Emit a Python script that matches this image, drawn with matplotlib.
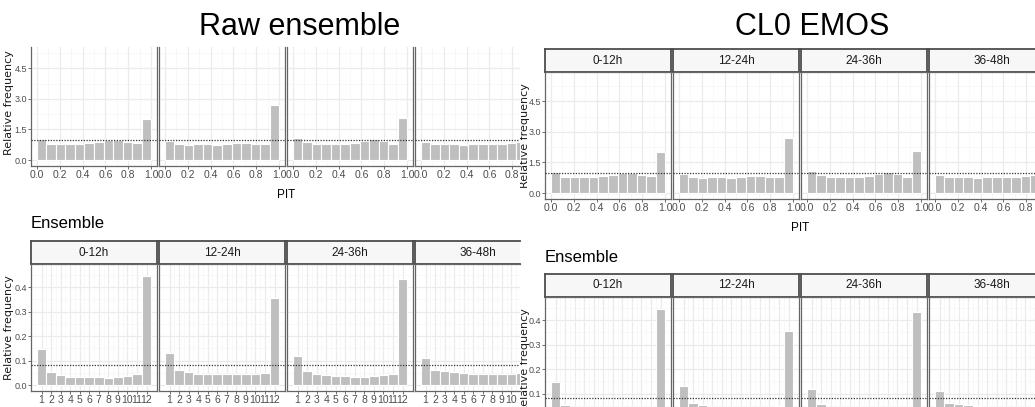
import matplotlib
matplotlib.use("Agg")
import matplotlib.pyplot as plt
from matplotlib.transforms import Bbox, TransformedBbox
import numpy as np

# ---------------------------------------------------------------- data
lead_times = ["0-12h", "12-24h", "24-36h", "36-48h"]

# PIT histograms (relative frequency / density, 12 equal bins on [0, 1])
pit_0_12 = [1.05, 0.80, 0.77, 0.78, 0.78, 0.82, 0.87, 0.98, 0.98, 0.90, 0.85, 2.02]
pit_12_24 = [0.92, 0.80, 0.73, 0.78, 0.80, 0.73, 0.80, 0.83, 0.85, 0.80, 0.78, 2.68]
pit_24_36 = [1.08, 0.87, 0.78, 0.78, 0.78, 0.80, 0.85, 0.92, 1.02, 0.92, 0.78, 2.07]
pit_36_48 = [0.90, 0.78, 0.78, 0.78, 0.73, 0.78, 0.78, 0.78, 0.78, 0.85, 0.88, 2.30]

# Verification rank histograms (ranks 1..12)
rank_0_12 = [0.146, 0.052, 0.041, 0.034, 0.033, 0.033, 0.033, 0.031, 0.034, 0.038, 0.045, 0.446]
rank_12_24 = [0.132, 0.061, 0.053, 0.045, 0.045, 0.045, 0.045, 0.044, 0.045, 0.045, 0.049, 0.356]
rank_24_36 = [0.121, 0.056, 0.045, 0.040, 0.037, 0.038, 0.035, 0.035, 0.038, 0.041, 0.046, 0.432]
rank_36_48 = [0.113, 0.063, 0.059, 0.053, 0.049, 0.045, 0.045, 0.045, 0.045, 0.046, 0.050, 0.390]

pit_values = [pit_0_12, pit_12_24, pit_24_36, pit_36_48]
rank_values = [rank_0_12, rank_12_24, rank_24_36, rank_36_48]
ranks = list(range(1, 13))

pit_xticks = [0.0, 0.2, 0.4, 0.6, 0.8, 1.0]
pit_yticks = [0.0, 1.5, 3.0, 4.5]
rank_yticks = [0.0, 0.1, 0.2, 0.3, 0.4]
pit_uniform = 1.0
rank_uniform = 1 / 12

block_titles = ["Raw ensemble", "CL0 EMOS"]

# ---------------------------------------------------------------- setup
W, H = 1035, 407
NARROW = ["Liberation Sans Narrow", "Liberation Sans", "DejaVu Sans"]
plt.rcParams["font.family"] = NARROW

fig = plt.figure(figsize=(W / 100, H / 100), dpi=100)
fig.patch.set_facecolor("white")


def px_axes(x0, y0, x1, y1, z):
    """Axes placed by pixel box (origin at top-left)."""
    ax = fig.add_axes([x0 / W, 1 - y1 / H, (x1 - x0) / W, (y1 - y0) / H])
    ax.set_zorder(z)
    return ax


def view_bbox(view):
    vx0, vy0, vx1, vy1 = view
    return TransformedBbox(Bbox([[vx0 / W, 1 - vy1 / H], [vx1 / W, 1 - vy0 / H]]),
                           fig.transFigure)


def px_text(x, y, s, view, z, **kw):
    t = fig.text(x / W, 1 - y / H, s, zorder=z, **kw)
    t.set_clip_box(view_bbox(view))
    t.set_clip_on(True)
    return t


def clipped_axes(box, view, z):
    """Axes for the part of a pixel box inside the view; returns the axes and
    the visible fractions (left, right, bottom, top) of the full box."""
    x0, y0, x1, y1 = box
    vx0, vy0, vx1, vy1 = view
    cx0, cy0, cx1, cy1 = max(x0, vx0), max(y0, vy0), min(x1, vx1), min(y1, vy1)
    if cx0 >= cx1 or cy0 >= cy1:
        return None, None
    ax = px_axes(cx0, cy0, cx1, cy1, z)
    frac = ((cx0 - x0) / (x1 - x0), (cx1 - x0) / (x1 - x0),
            (y1 - cy1) / (y1 - y0), (y1 - cy0) / (y1 - y0))
    return ax, frac


def style_panel(ax, frac, view, xlim, ylim, xticks, xlabels, yticks, ylabels,
                xminor, yminor, show_y):
    fl, fr, fb, ft = frac
    ax.set_xticks(xticks)
    ax.set_xticklabels(xlabels)
    ax.set_yticks(yticks)
    ax.set_yticklabels(ylabels)
    ax.set_xticks(xminor, minor=True)
    ax.set_yticks(yminor, minor=True)
    ax.set_xlim(xlim[0] + (xlim[1] - xlim[0]) * fl, xlim[0] + (xlim[1] - xlim[0]) * fr)
    ax.set_ylim(ylim[0] + (ylim[1] - ylim[0]) * fb, ylim[0] + (ylim[1] - ylim[0]) * ft)
    ax.grid(which="major", color="#EBEBEB", lw=0.9)
    ax.grid(which="minor", color="#F5F5F5", lw=0.5)
    ax.set_axisbelow(True)
    ax.tick_params(which="minor", length=0)
    ax.tick_params(which="major", length=2, width=0.6, color="#555555",
                   labelsize=7.5, labelcolor="#4D4D4D", pad=1.0)
    ax.tick_params(axis="y", labelsize=6.5)
    if not show_y or fl > 0:
        ax.tick_params(axis="y", left=False, labelleft=False)
    if fb > 0:
        ax.tick_params(axis="x", bottom=False, labelbottom=False)
    vb = view_bbox(view)
    for tk in ax.xaxis.get_major_ticks() + ax.yaxis.get_major_ticks():
        tk.label1.set_clip_box(vb)
        tk.label1.set_clip_on(True)
    for s in ax.spines.values():
        s.set_color("#666666")
        s.set_linewidth(0.9)
    ax.spines["left"].set_visible(fl == 0)
    ax.spines["right"].set_visible(fr == 1)
    ax.spines["bottom"].set_visible(fb == 0)
    ax.spines["top"].set_visible(ft == 1)


def strip(box, label, view, z):
    sax, frac = clipped_axes(box, view, z)
    if sax is None:
        return
    sax.set_xticks([])
    sax.set_yticks([])
    sax.set_facecolor("#F7F7F7")
    for s in sax.spines.values():
        s.set_color("#4D4D4D")
        s.set_linewidth(1.3)
    sax.spines["left"].set_visible(frac[0] == 0)
    sax.spines["right"].set_visible(frac[1] == 1)
    cx = (box[0] + box[2]) / 2
    cy = (box[1] + box[3]) / 2
    if view[0] <= cx <= view[2] and view[1] <= cy <= view[3]:
        px_text(cx, cy, label, view, z + 0.5, ha="center", va="center",
                fontsize=8.5, color="#1A1A1A")


PANEL_X = [31, 159, 287, 415]
PANEL_W = 126
pit_edges = np.linspace(0, 1, 13)[:-1]


def draw_block(dx, dy, view, z, ylab_x):
    # upper row: PIT histograms
    for i, lt in enumerate(lead_times):
        x0 = PANEL_X[i] + dx
        strip((x0, 16 + dy, x0 + PANEL_W, 39 + dy), lt, view, z)
        ax, frac = clipped_axes((x0, 39 + dy, x0 + PANEL_W, 166 + dy), view, z)
        if ax is None:
            continue
        ax.bar(pit_edges, pit_values[i], width=1 / 12, align="edge",
               color="#BFBFBF", edgecolor="white", linewidth=0.8, zorder=2)
        ax.axhline(pit_uniform, color="#333333", ls=(0, (1, 1.2)), lw=0.9, zorder=3)
        style_panel(ax, frac, view, (-0.05, 1.05), (-0.295, 5.95),
                    pit_xticks, [f"{t:.1f}" for t in pit_xticks],
                    pit_yticks, [f"{t:.1f}" for t in pit_yticks],
                    [0.1, 0.3, 0.5, 0.7, 0.9], [0.75, 2.25, 3.75, 5.25],
                    i == 0)
    px_text(286 + dx, 195 + dy, "PIT", view, z, ha="center", va="center",
            fontsize=8.5, color="black")
    px_text(ylab_x + dx, 102.5 + dy, "Relative frequency", view, z, ha="center",
            va="center", rotation=90, fontsize=8, color="#1A1A1A",
            family="DejaVu Sans")

    # lower row: rank histograms
    px_text(31 + dx, 224 + dy, "Ensemble", view, z, ha="left", va="center",
            fontsize=12, color="black")
    for i, lt in enumerate(lead_times):
        x0 = PANEL_X[i] + dx
        strip((x0, 241 + dy, x0 + PANEL_W, 264 + dy), lt, view, z)
        ax, frac = clipped_axes((x0, 264 + dy, x0 + PANEL_W, 391 + dy), view, z)
        if ax is None:
            continue
        ax.bar(ranks, rank_values[i], width=1.0, color="#BFBFBF",
               edgecolor="white", linewidth=0.8, zorder=2)
        ax.axhline(rank_uniform, color="#333333", ls=(0, (1, 1.2)), lw=0.9, zorder=3)
        style_panel(ax, frac, view, (-0.1, 13.1), (-0.0235, 0.494),
                    ranks, [str(r) for r in ranks],
                    rank_yticks, [f"{t:.1f}" for t in rank_yticks],
                    [r + 0.5 for r in ranks[:-1]],
                    [0.05, 0.15, 0.25, 0.35, 0.45],
                    i == 0)
    px_text(ylab_x + dx, 327.5 + dy, "Relative frequency", view, z, ha="center",
            va="center", rotation=90, fontsize=8, color="#1A1A1A",
            family="DejaVu Sans")


SEAM = 520

# left block (trimmed at the top and at the seam)
draw_block(0, 0, (0, 47, SEAM, H), 1, 9)
# right block
draw_block(514, 33, (SEAM, 0, W, H), 3, 10.5)

# block titles
full = (0, 0, W, H)
px_text(300, 27, block_titles[0], full, 5, ha="center", va="center", fontsize=22,
        color="black", family="Liberation Sans")
px_text(812, 27, block_titles[1], full, 5, ha="center", va="center", fontsize=22,
        color="black", family="Liberation Sans")

fig.savefig("out.png", dpi=100, facecolor="white")
